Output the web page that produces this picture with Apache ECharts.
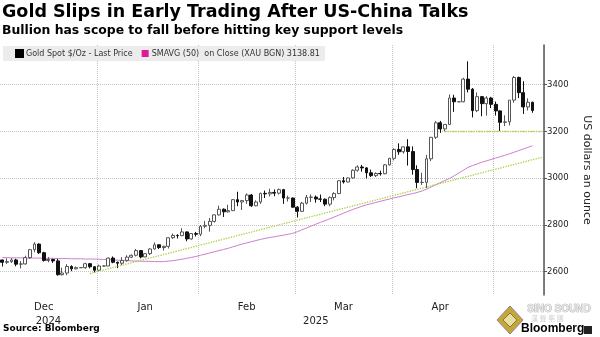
<!DOCTYPE html>
<html>
<head>
<meta charset="utf-8">
<script src="https://cdn.jsdelivr.net/npm/echarts@6/dist/echarts.min.js"></script>
<style>
html,body{margin:0;padding:0;background:#fff;}
#chart{width:600px;height:337px;}
</style>
</head>
<body>
<div id="chart"></div>
<script>
// Trading-day categories (weekdays), Dec 2 2024 - May 14 2025
const categories = [
'2024-12-02','2024-12-03','2024-12-04','2024-12-05','2024-12-06','2024-12-09','2024-12-10','2024-12-11','2024-12-12','2024-12-13',
'2024-12-16','2024-12-17','2024-12-18','2024-12-19','2024-12-20','2024-12-23','2024-12-24','2024-12-25','2024-12-26','2024-12-27',
'2024-12-30','2024-12-31',
'2025-01-01','2025-01-02','2025-01-03','2025-01-06','2025-01-07','2025-01-08','2025-01-09','2025-01-10','2025-01-13','2025-01-14',
'2025-01-15','2025-01-16','2025-01-17','2025-01-20','2025-01-21','2025-01-22','2025-01-23','2025-01-24','2025-01-27','2025-01-28',
'2025-01-29','2025-01-30','2025-01-31',
'2025-02-03','2025-02-04','2025-02-05','2025-02-06','2025-02-07','2025-02-10','2025-02-11','2025-02-12','2025-02-13','2025-02-14',
'2025-02-17','2025-02-18','2025-02-19','2025-02-20','2025-02-21','2025-02-24','2025-02-25','2025-02-26','2025-02-27','2025-02-28',
'2025-03-03','2025-03-04','2025-03-05','2025-03-06','2025-03-07','2025-03-10','2025-03-11','2025-03-12','2025-03-13','2025-03-14',
'2025-03-17','2025-03-18','2025-03-19','2025-03-20','2025-03-21','2025-03-24','2025-03-25','2025-03-26','2025-03-27','2025-03-28',
'2025-03-31',
'2025-04-01','2025-04-02','2025-04-03','2025-04-04','2025-04-07','2025-04-08','2025-04-09','2025-04-10','2025-04-11','2025-04-14',
'2025-04-15','2025-04-16','2025-04-17','2025-04-18','2025-04-21','2025-04-22','2025-04-23','2025-04-24','2025-04-25','2025-04-28',
'2025-04-29','2025-04-30',
'2025-05-01','2025-05-02','2025-05-05','2025-05-06','2025-05-07','2025-05-08','2025-05-09','2025-05-12','2025-05-13','2025-05-14'
];

const opens = [
2650,2640,2643,2650,2632,2633,2660,2694,2718,2681,2648,2652,2646,2587,2594,2622,2612,2617,2617,2634,2621,2606,
2624,2624,2658,2640,2636,2648,2662,2670,2690,2663,2677,2697,2715,2703,2708,2745,2755,2754,2770,2740,2763,2760,2794,
2798,2815,2843,2867,2856,2861,2908,2898,2904,2928,2882,2898,2935,2933,2939,2936,2951,2915,2915,2876,
2858,2893,2918,2919,2911,2910,2889,2917,2934,2989,2984,3001,3034,3048,3044,3023,3011,3020,3019,3057,3085,
3123,3113,3134,3114,3037,2982,2982,3083,3175,3237,3211,3230,3343,3327,3327,3424,3381,3289,3349,3319,3343,3316,
3288,3239,3241,3334,3431,3366,3305,3325
];
const closes = [
2640,2643,2650,2632,2633,2660,2694,2718,2681,2648,2652,2646,2587,2594,2622,2612,2617,2617,2634,2621,2606,2624,
2624,2658,2640,2636,2648,2662,2670,2690,2663,2677,2697,2715,2703,2708,2745,2755,2754,2770,2740,2763,2760,2794,2798,
2815,2843,2867,2856,2861,2908,2898,2904,2928,2882,2898,2935,2933,2939,2936,2951,2915,2915,2876,2858,
2893,2918,2919,2911,2910,2889,2917,2934,2989,2984,3001,3034,3048,3044,3023,3011,3020,3019,3057,3085,3123,
3113,3134,3114,3037,2982,2982,3083,3175,3237,3211,3230,3343,3327,3327,3424,3381,3289,3349,3319,3343,3316,3288,
3239,3241,3334,3431,3366,3305,3325,3290
];
const lows = [
2622,2633,2637,2623,2614,2630,2655,2683,2676,2643,2640,2637,2583,2583,2585,2602,2610,2616,2612,2614,2597,2602,
2622,2624,2636,2615,2628,2642,2658,2665,2657,2662,2671,2694,2697,2690,2699,2740,2742,2752,2730,2737,2750,2752,2786,
2771,2810,2840,2834,2853,2860,2880,2864,2890,2877,2880,2890,2915,2922,2923,2930,2890,2900,2874,2832,
2855,2887,2898,2895,2898,2880,2880,2905,2932,2977,2982,2998,3028,3028,2999,3005,3005,3011,3017,3054,3076,
3100,3105,3054,3015,2957,2971,2957,3073,3168,3194,3201,3229,3284,3326,3325,3367,3260,3283,3265,3268,3300,3268,
3202,3223,3226,3323,3343,3275,3290,3280
];
const highs = [
2651,2657,2658,2655,2645,2668,2697,2726,2721,2685,2662,2655,2655,2617,2632,2627,2622,2618,2638,2637,2623,2630,
2626,2660,2665,2643,2662,2670,2673,2697,2692,2679,2700,2725,2717,2711,2745,2763,2760,2786,2772,2765,2770,2800,2817,
2830,2845,2882,2871,2886,2911,2942,2907,2935,2932,2905,2938,2947,2955,2952,2956,2954,2925,2917,2880,
2898,2928,2930,2926,2930,2913,2922,2940,2990,3005,3002,3038,3055,3057,3047,3037,3025,3032,3060,3087,3128,
3149,3136,3167,3136,3055,3023,3099,3176,3245,3245,3230,3358,3357,3328,3430,3500,3386,3367,3352,3351,3348,3328,
3290,3269,3334,3437,3435,3415,3342,3327
];
// 50-day simple moving average
const smavg50 = [
2660,2660,2659,2659,2659,2658,2658,2658,2658,2657,2657,2657,2656,2656,2656,2655,2655,2655,2654,2654,2654,
2653,2652,2651,2650,2649,2648,2647,2646,2645,2645,2644,2644,2643,2643,2643,
2645,2647,2650,2653,2657,2661,2665,
2670,2675,2680,2685,2690,2695,2700,2706,2712,2718,2723,2728,2733,
2738,2742,2746,2749,2753,2756,2760,2764,
2771,2779,2787,2795,2803,2811,2818,
2826,2834,2842,2850,2858,2866,2873,
2880,2886,2891,2896,2901,2906,2911,2916,2920,2925,
2930,2934,2939,2945,
2953,2962,2972,2981,2990,2999,
3010,3022,3034,3046,
3054,3061,3068,3074,3080,
3086,3092,3098,3104,
3111,3118,3125,3132,3138.81
];
// Trend line and support level (drawn dotted green)
const trendLine = [['2024-12-27', 2592], ['2025-05-14', 3089]];
const supportLine = [['2025-04-15', 3200], ['2025-05-14', 3200]];

const yTicks = [2600, 2800, 3000, 3200, 3400];
const monthLabels = {'2024-12-13':'Dec','2025-01-14':'Jan','2025-02-13':'Feb','2025-03-14':'Mar','2025-04-14':'Apr'};
const yearLabels = {'2024-12-16':'2024','2025-03-06':'2025'};
const gridDates = ['2024-12-31','2025-01-30','2025-02-28','2025-03-31','2025-04-30'];

const candleName = 'Gold Spot $/Oz - Last Price';
const maName = 'SMAVG (50)  on Close (XAU BGN) 3138.81';

const candleData = opens.map((o, i) => [o, closes[i], lows[i], highs[i]]);

const FONT = 'DejaVu Sans';
const chart = echarts.init(document.getElementById('chart'), null, {renderer: 'canvas'});
chart.setOption({
  animation: false,
  backgroundColor: '#ffffff',
  textStyle: {fontFamily: FONT},
  title: {
    text: 'Gold Slips in Early Trading After US-China Talks',
    subtext: 'Bullion has scope to fall before hitting key support levels',
    left: 2, top: 3, padding: 0, itemGap: 4,
    textStyle: {fontSize: 17.5, fontWeight: 'bold', color: '#000', fontFamily: FONT},
    subtextStyle: {fontSize: 12.4, fontWeight: 'bold', color: '#000', fontFamily: FONT}
  },
  legend: {
    left: 3, top: 46, padding: [3, 5, 3, 12],
    backgroundColor: '#ececec',
    itemWidth: 7, itemHeight: 7, itemGap: 9,
    textStyle: {fontSize: 8, color: '#333', fontFamily: FONT, padding: [0, 0, 0, -2]},
    data: [
      {name: candleName, icon: 'rect', itemStyle: {color: '#000', borderColor: '#000'}},
      {name: maName, icon: 'rect', itemStyle: {color: '#e0189a', borderColor: '#e0189a'}}
    ]
  },
  grid: {left: 0, right: 47, top: 45, bottom: 42},
  xAxis: [{
    type: 'category', data: categories, boundaryGap: true,
    axisLine: {show: false}, axisTick: {show: false},
    axisLabel: {
      interval: (i, v) => monthLabels[v] !== undefined,
      formatter: v => monthLabels[v] || '',
      fontSize: 10, color: '#222', margin: 7, fontFamily: FONT
    },
    splitLine: {
      show: true,
      interval: (i, v) => gridDates.indexOf(v) >= 0,
      lineStyle: {type: 'dotted', color: '#c4c4c4', width: 1}
    }
  }, {
    type: 'category', data: categories, boundaryGap: true, position: 'bottom', gridIndex: 0,
    axisLine: {show: false}, axisTick: {show: false}, splitLine: {show: false},
    axisLabel: {
      interval: (i, v) => yearLabels[v] !== undefined,
      formatter: v => yearLabels[v] || '',
      fontSize: 10, color: '#222', margin: 21, fontFamily: FONT
    }
  }],
  yAxis: {
    type: 'value', position: 'right', min: 2500, max: 3570, scale: true,
    axisLine: {show: true, lineStyle: {color: '#555', width: 1.5}},
    axisTick: {show: true, customValues: yTicks, length: 3, lineStyle: {color: '#555'}},
    axisLabel: {customValues: yTicks, formatter: v => String(v), fontSize: 8.5, color: '#222', margin: 3, fontFamily: FONT},
    splitLine: {show: true, lineStyle: {type: 'dotted', color: '#c4c4c4', width: 1}},
    name: 'US dollars an ounce', nameLocation: 'middle', nameRotate: -90, nameGap: 37,
    nameTextStyle: {fontSize: 11, color: '#222', fontFamily: FONT}
  },
  series: [{
    name: candleName, type: 'candlestick', data: candleData, barWidth: '72%',
    itemStyle: {color: '#ffffff', color0: '#111111', borderColor: '#555555', borderColor0: '#111111', borderWidth: 1},
    markLine: {
      silent: true, symbol: 'none', label: {show: false},
      lineStyle: {color: '#a6cf3a', type: 'dotted', width: 1.3},
      data: [
        [{coord: trendLine[0]}, {coord: trendLine[1]}],
        [{coord: supportLine[0]}, {coord: supportLine[1]}]
      ]
    }
  }, {
    name: maName, type: 'line', data: smavg50, showSymbol: false, symbol: 'none',
    lineStyle: {color: '#cc7fcc', width: 1}, itemStyle: {color: '#cc7fcc'}, z: 1
  }],
  graphic: [
    {type: 'text', left: 3, top: 324, style: {text: 'Source: Bloomberg', font: 'bold 9px "DejaVu Sans"', fill: '#000'}},
    {type: 'polygon', shape: {points: [[510, 306], [523, 320], [510, 334], [497, 320]]}, style: {fill: '#c9a43a', stroke: '#8a8a8a', lineWidth: 1}},
    {type: 'polygon', shape: {points: [[510, 313], [517, 320], [510, 327], [503, 320]]}, style: {fill: '#e8e0a0', stroke: '#7a7a3a', lineWidth: 1}},
    {type: 'text', left: 527, top: 304, style: {text: 'SINO SOUND', font: 'bold 10px "Liberation Sans"', fill: '#e6e6e6', stroke: '#9a9a9a', lineWidth: 0.6}},
    {type: 'text', left: 531, top: 315, style: {text: '漢 聲 集 團', font: '7px "Noto Sans CJK TC"', fill: '#cfcfcf'}},
    {type: 'text', left: 521, top: 323, style: {text: 'Bloomberg', font: 'bold 12px "Liberation Sans"', fill: '#000'}},
    {type: 'rect', shape: {x: 584, y: 326, width: 8, height: 8}, style: {fill: '#222'}}
  ]
});
</script>
</body>
</html>
